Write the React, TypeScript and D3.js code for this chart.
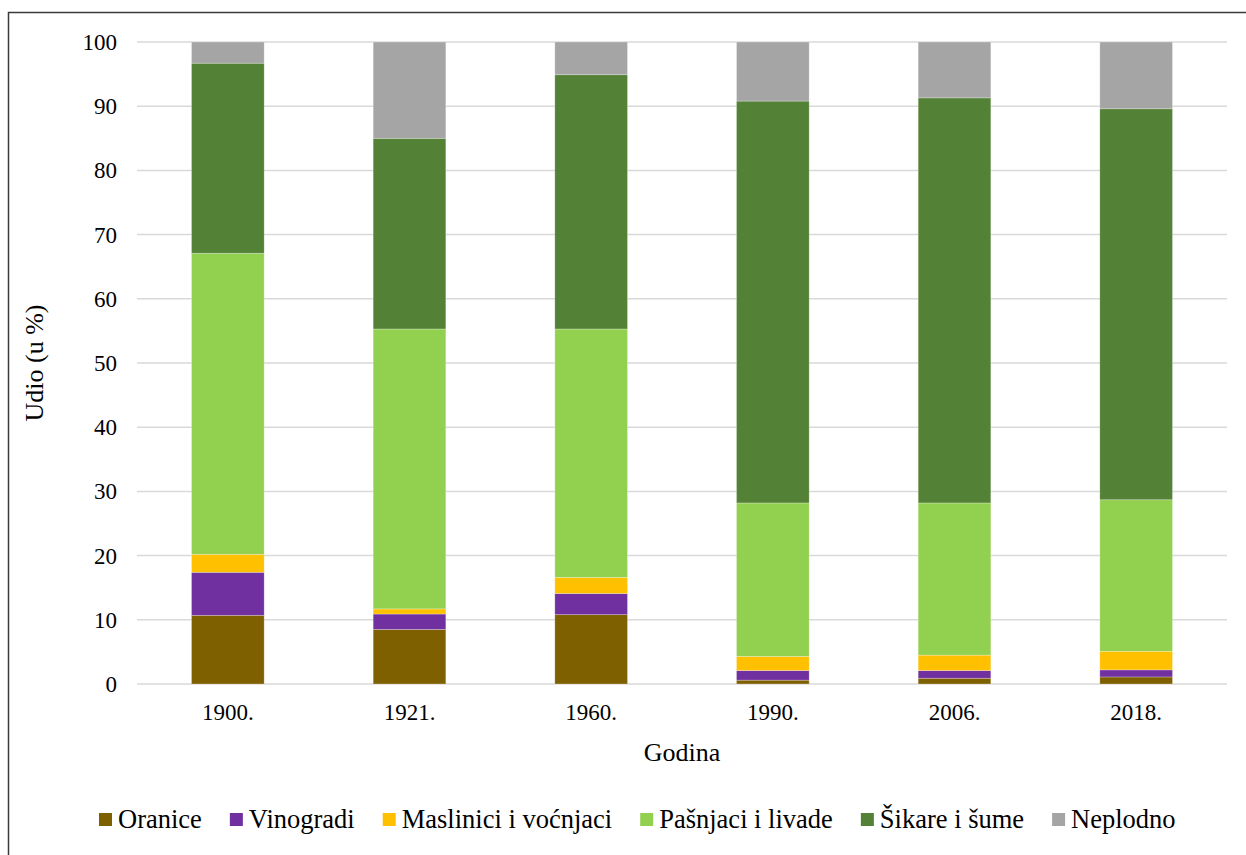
import React, { useMemo } from "react";
import * as d3 from "d3";

// godine (kategorije na x osi)
const years = ["1900.", "1921.", "1960.", "1990.", "2006.", "2018."];

// udio po kategoriji zemljišta (u %)
const oranice = [10.7, 8.5, 10.8, 0.6, 0.9, 1.1];
const vinogradi = [6.7, 2.4, 3.3, 1.5, 1.2, 1.1];
const maslinici = [2.8, 0.8, 2.5, 2.2, 2.4, 2.9];
const pasnjaci = [46.9, 43.6, 38.7, 23.9, 23.7, 23.6];
const sikare = [29.6, 29.7, 39.6, 62.6, 63.1, 60.9];
const neplodno = [3.3, 15.0, 5.1, 9.2, 8.7, 10.4];

const seriesNames = ["Oranice", "Vinogradi", "Maslinici i voćnjaci", "Pašnjaci i livade", "Šikare i šume", "Neplodno"];
const seriesValues = [oranice, vinogradi, maslinici, pasnjaci, sikare, neplodno];
const colors = ["#7f6000", "#7030a0", "#ffc000", "#92d050", "#538135", "#a5a5a5"];
const yTicks = [0, 10, 20, 30, 40, 50, 60, 70, 80, 90, 100];

const W = 1246;
const H = 855;
const margin = { top: 42, right: 19, bottom: 171, left: 137 };
const FONT = "'Liberation Serif', 'Times New Roman', serif";

const measure = (txt: string, size: number) => {
  const c = document.createElement("canvas").getContext("2d");
  if (!c) return txt.length * size * 0.45;
  c.font = `${size}px ${FONT}`;
  return c.measureText(txt).width;
};

export default function App() {
  const rows = useMemo(
    () =>
      years.map((y, i) => {
        const r: any = { year: y };
        seriesNames.forEach((s, k) => (r[s] = seriesValues[k][i]));
        return r;
      }),
    []
  );

  const stacked = d3.stack<any>().keys(seriesNames)(rows);

  const x = d3
    .scaleBand()
    .domain(years)
    .range([margin.left, W - margin.right])
    .paddingInner(0.6)
    .paddingOuter(0.3);

  const y = d3
    .scaleLinear()
    .domain([0, 100])
    .range([H - margin.bottom, margin.top]);

  // legenda
  const legendFont = 26.5;
  let lx = 99;
  const legendItems = seriesNames.map((s, i) => {
    const item = { name: s, color: colors[i], x: lx };
    lx += 13 + 6 + measure(s, legendFont) + 28;
    return item;
  });

  return (
    <svg
      width={W}
      height={H}
      style={{ position: "absolute", left: 0, top: 0, fontFamily: FONT }}
    >
      <rect x={0} y={0} width={W} height={H} fill="#fff" />
      <rect x={8.5} y={12.5} width={W + 20} height={H + 20} fill="none" stroke="#3a3a3a" strokeWidth={1.5} />

      {/* mreža */}
      {yTicks.map(t => (
        <g key={t}>
          <line
            x1={margin.left}
            x2={W - margin.right}
            y1={y(t)}
            y2={y(t)}
            stroke="#d9d9d9"
            strokeWidth={1.5}
          />
          <text x={117} y={y(t)} dy="0.35em" textAnchor="end" fontSize={23} fill="#000">
            {t}
          </text>
        </g>
      ))}

      {/* stupci */}
      {stacked.map((layer, k) => (
        <g key={layer.key} fill={colors[k]}>
          {layer.map((d, i) => (
            <rect
              key={i}
              x={x(years[i])}
              width={x.bandwidth()}
              y={y(d[1])}
              height={y(d[0]) - y(d[1])}
              stroke="#ffffff"
              strokeOpacity={0.35}
              strokeWidth={0.75}
            />
          ))}
        </g>
      ))}

      {/* x oznake */}
      {years.map(yr => (
        <text
          key={yr}
          x={(x(yr) ?? 0) + x.bandwidth() / 2}
          y={720}
          textAnchor="middle"
          fontSize={23}
        >
          {yr}
        </text>
      ))}

      <text x={(margin.left + W - margin.right) / 2} y={761} textAnchor="middle" fontSize={26}>
        Godina
      </text>
      <text
        transform={`translate(43,${(y(0) + y(100)) / 2}) rotate(-90)`}
        textAnchor="middle"
        fontSize={26}
      >
        Udio (u %)
      </text>

      {legendItems.map(it => (
        <g key={it.name}>
          <rect x={it.x} y={813} width={13} height={13} fill={it.color} />
          <text x={it.x + 19} y={828} fontSize={legendFont}>
            {it.name}
          </text>
        </g>
      ))}
    </svg>
  );
}
